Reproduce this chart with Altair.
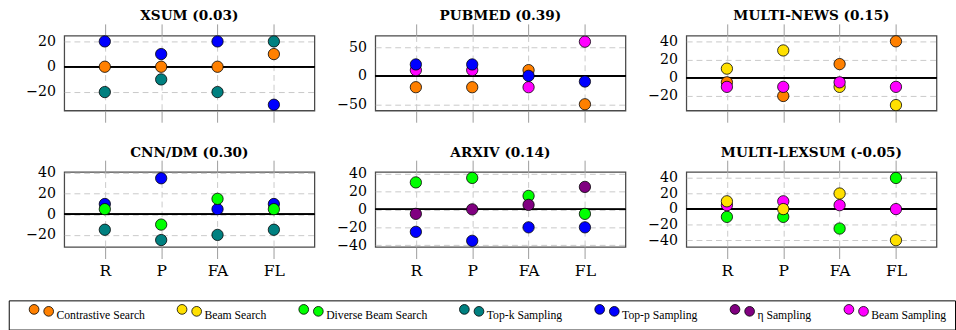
import altair as alt
import pandas as pd

metrics = ["R", "P", "FA", "FL"]
methods = ["Contrastive Search", "Beam Search", "Diverse Beam Search",
           "Top-k Sampling", "Top-p Sampling", "η Sampling", "Beam Sampling"]
colors = ["#FF8000", "#FFE000", "#00FF00", "#008080", "#0000FF", "#800080", "#FF00FF"]

# values per panel (drawing order = dict order)
xsum = {"Contrastive Search": [0, 0, 0, 10],
        "Top-k Sampling": [-20, -10, -20, 20],
        "Top-p Sampling": [20, 10, 20, -30]}
pubmed = {"Contrastive Search": [-20, -20, 10, -50],
          "Beam Sampling": [10, 10, -20, 60],
          "Top-p Sampling": [20, 20, 0, -10]}
multinews = {"Beam Search": [10, 30, -10, -30],
             "Contrastive Search": [-5, -20, 15, 40],
             "Beam Sampling": [-10, -10, -5, -10]}
cnndm = {"Top-k Sampling": [-15, -25, -20, -15],
         "Top-p Sampling": [10, 35, 5, 10],
         "Diverse Beam Search": [5, -10, 15, 5]}
arxiv = {"Top-p Sampling": [-25, -35, -20, -20],
         "Diverse Beam Search": [30, 35, 15, -5],
         "η Sampling": [-5, 0, 5, 25]}
multilexsum = {"Diverse Beam Search": [-10, -10, -25, 40],
               "Beam Sampling": [5, 10, 5, 0],
               "Beam Search": [10, 0, 20, -40]}

titles = ["XSUM (0.03)", "PUBMED (0.39)", "MULTI-NEWS (0.15)",
          "CNN/DM (0.30)", "ARXIV (0.14)", "MULTI-LEXSUM (-0.05)"]
domains = [[-34.6, 24.6], [-61, 70.7], [-36, 46.3],
           [-31.6, 41.2], [-41.7, 41.7], [-48.5, 47.8]]
yticks = [[-20, 0, 20], [-50, 0, 50], [-20, 0, 20, 40],
          [-20, 0, 20, 40], [-40, -20, 0, 20, 40], [-40, -20, 0, 20, 40]]

FONT = "DejaVu Serif"
LFONT = "Liberation Serif"
GRID = "#c8c8c8"
TICK = "#9a9a9a"

two_dots = ("M-0.5,-1.15A1,1,0,1,1,-2.5,-1.15A1,1,0,1,1,-0.5,-1.15Z"
            "M2.5,-0.75A1,1,0,1,1,0.5,-0.75A1,1,0,1,1,2.5,-0.75Z")

legend = alt.Legend(
    title=None, orient="none", legendX=-57, legendY=272,
    direction="horizontal", columns=7,
    symbolType=two_dots, symbolSize=100, symbolStrokeColor="black",
    symbolStrokeWidth=0.8, symbolOffset=18.5, labelOffset=9.5,
    labelFont=LFONT, labelFontSize=12, labelBaseline="middle", labelColor="black",
    columnPadding=21, padding=9, strokeColor="black", fillColor="white",
)


def panel(title, data, domain, ticks, bottom):
    rows = []
    for z, (m, vals) in enumerate(data.items()):
        for met, v in zip(metrics, vals):
            rows.append({"metric": met, "method": m, "value": v, "z": z})
    df = pd.DataFrame(rows)
    xscale = alt.Scale(type="point", padding=0.72, domain=metrics)
    yscale = alt.Scale(domain=domain, nice=False, zero=False)
    yaxis = alt.Axis(values=ticks, title=None)
    base = alt.Chart(df)
    zero = base.mark_rule(color="black", strokeWidth=1).encode(
        y=alt.Y(datum=0, scale=yscale, axis=yaxis))
    top = base.mark_point(opacity=0).encode(
        x=alt.X("metric:N", scale=xscale, sort=metrics,
                axis=alt.Axis(orient="top", labels=False, grid=False, title=None)),
        y=alt.Y("value:Q", scale=yscale, axis=yaxis))
    pts = base.mark_point(filled=True, size=135, opacity=1, stroke="black",
                          strokeWidth=0.8).encode(
        x=alt.X("metric:N", scale=xscale, sort=metrics,
                axis=alt.Axis(orient="bottom", labels=bottom, grid=True, title=None)),
        y=alt.Y("value:Q", scale=yscale, axis=yaxis),
        color=alt.Color("method:N", scale=alt.Scale(domain=methods, range=colors),
                        legend=legend),
        order=alt.Order("z:Q"),
    )
    return alt.layer(zero, top, pts).resolve_axis(x="independent").properties(
        width=257, height=77,
        title=alt.TitleParams(title, font=FONT, fontSize=14, fontWeight="bold",
                              color="black", offset=0))


datasets = [xsum, pubmed, multinews, cnndm, arxiv, multilexsum]
panels = [panel(titles[i], datasets[i], domains[i], yticks[i], i >= 3) for i in range(6)]

row1 = alt.hconcat(*panels[:3], spacing=19.5)
row2 = alt.hconcat(*panels[3:], spacing=19.5)
chart = (
    alt.vconcat(row1, row2, spacing=21)
    .properties(padding={"left": 8, "top": 4, "right": 0, "bottom": 0})
    .configure_view(stroke="#4a4a4a", strokeWidth=1.3)
    .configure_axisY(grid=True, gridDash=[6, 4], gridColor=GRID, ticks=False,
                     domain=False, labelPadding=9, labelFont=FONT,
                     labelFontSize=14.5, labelColor="black")
    .configure_axisX(gridDash=[6, 4], gridColor=GRID, tickSize=12, tickColor=TICK,
                     domain=False, labelAngle=0, labelPadding=4, labelFont=FONT,
                     labelFontSize=16, labelColor="black")
)

chart.save("out.html", embed_options={"renderer": "svg", "actions": False})
